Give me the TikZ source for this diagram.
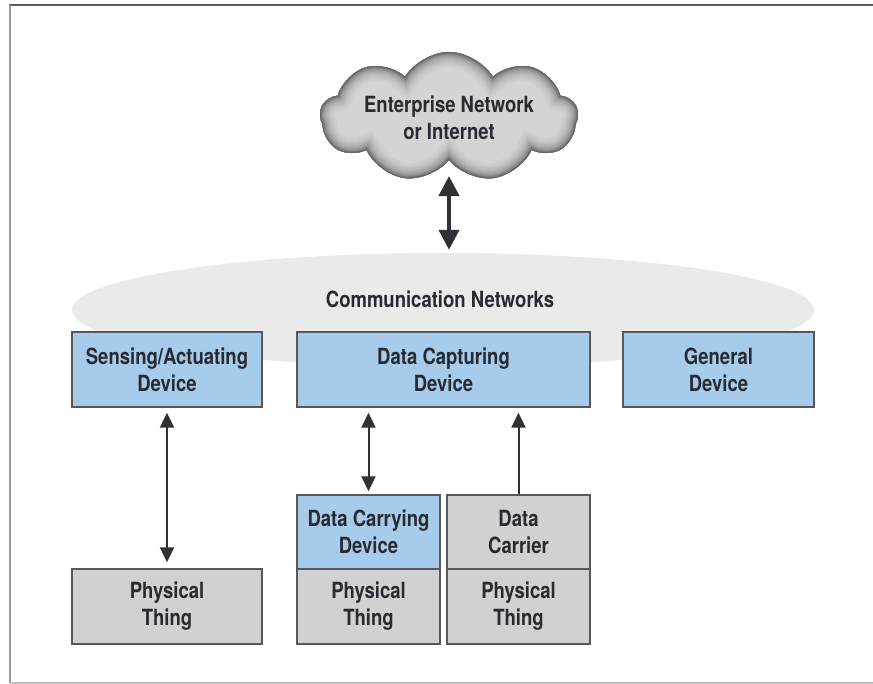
\documentclass[tikz,border=0pt]{standalone}
\usepackage{fontspec}
\newfontfamily\lblfont{TeX Gyre Heros}[FakeStretch=0.83]
\usetikzlibrary{shapes.geometric,shapes.symbols,arrows.meta}

\definecolor{boxblue}{HTML}{A7CBEA}
\definecolor{boxgray}{HTML}{D1D1D3}
\definecolor{boxline}{HTML}{55585C}
\definecolor{netfill}{HTML}{E9EAEA}
\definecolor{inktext}{HTML}{272A31}
\definecolor{inkarrow}{HTML}{2F3136}
\definecolor{cldIn}{HTML}{D4D4D4}
\definecolor{cldRim}{HTML}{666666}
\definecolor{frameA}{HTML}{5A5A5A}
\definecolor{frameB}{HTML}{9A9A9A}
\definecolor{frameC}{HTML}{BDBDBD}

\begin{document}
\begin{tikzpicture}[x=1pt,y=-1pt,
  lbl/.style={font=\lblfont\bfseries\fontsize{22.3}{27}\selectfont, text=inktext, align=center},
  devbox/.style={lbl, draw=boxline, line width=1.4pt, fill=boxblue, inner sep=0pt},
  thingbox/.style={lbl, draw=boxline, line width=1.4pt, fill=boxgray, inner sep=0pt},
  cloudform/.style={cloud, cloud puffs=9, cloud puff arc=118, aspect=2,
    minimum width=258pt, minimum height=130pt, inner sep=0pt},
  bigarrow/.style={draw=inkarrow, line width=4pt, {Triangle[length=20pt,width=20pt]}-{Triangle[length=20pt,width=20pt]}},
  smallarrow/.style={draw=inkarrow, line width=2pt},
  smalltip/.tip={Triangle[length=15pt,width=14pt]},
]
\useasboundingbox (0,0) rectangle (873,684);

% outer frame: top, left and bottom rules
\draw[frameA, line width=2pt] (9,5) -- (873,5);
\draw[frameB, line width=2pt] (10,5) -- (10,683);
\draw[frameC, line width=1.5pt] (10,683) -- (873,683);

% communication networks
\node[ellipse, fill=netfill, minimum width=742pt, minimum height=114pt, inner sep=0pt] (net) at (443,310) {};
\node[lbl] (nettext) at (440,299) {Communication Networks};

% cloud with a soft darker rim
\node[cloudform] (cloudbase) at (449,117) {};
\node[cloudform, fill=cldIn, path picture={
    \foreach \w/\p in {30/6, 25/12, 21/19, 17/27, 14/35, 11/44, 8.5/54, 6.5/64, 4.5/75, 3/86, 1.6/100}
      \node[cloudform, draw=cldRim!\p!cldIn, line width=\w pt] at (cloudbase.center) {};
  }] (cloud) at (cloudbase.center) {};
\node[lbl] (cloudtext) at (449,118) {Enterprise Network\\or Internet};

% devices
\node[devbox, minimum width=190pt, minimum height=75pt] (sense) at (167,369.5) {Sensing/Actuating\\Device};
\node[devbox, minimum width=293pt, minimum height=75pt] (dcap) at (443.5,369.5) {Data Capturing\\Device};
\node[devbox, minimum width=191pt, minimum height=75pt] (gen) at (718.5,369.5) {General\\Device};

% physical things and what they carry
\node[thingbox, minimum width=190pt, minimum height=75pt] (phys1) at (167,606.5) {Physical\\Thing};
\node[devbox, minimum width=143pt, minimum height=74pt] (dcarry) at (368.5,532) {Data Carrying\\Device};
\node[thingbox, minimum width=143pt, minimum height=75pt] (phys2) at (368.5,606.5) {Physical\\Thing};
\node[thingbox, minimum width=143pt, minimum height=74pt] (dcarrier) at (518.5,532) {Data\\Carrier};
\node[thingbox, minimum width=143pt, minimum height=75pt] (phys3) at (518.5,606.5) {Physical\\Thing};

% connectors
\draw[bigarrow, shorten <=16pt, shorten >=3pt] (cloud.south) -- (cloud.south |- net.north);
\draw[smallarrow, {smalltip}-{smalltip}, shorten <=5pt, shorten >=6pt] (sense.south) -- (phys1.north);
\draw[smallarrow, {smalltip}-{smalltip}, shorten <=5pt, shorten >=3pt] (dcarry.north |- dcap.south) -- (dcarry.north);
\draw[smallarrow, -{smalltip}, shorten >=5pt] (dcarrier.north) -- (dcarrier.north |- dcap.south);
\end{tikzpicture}
\end{document}
